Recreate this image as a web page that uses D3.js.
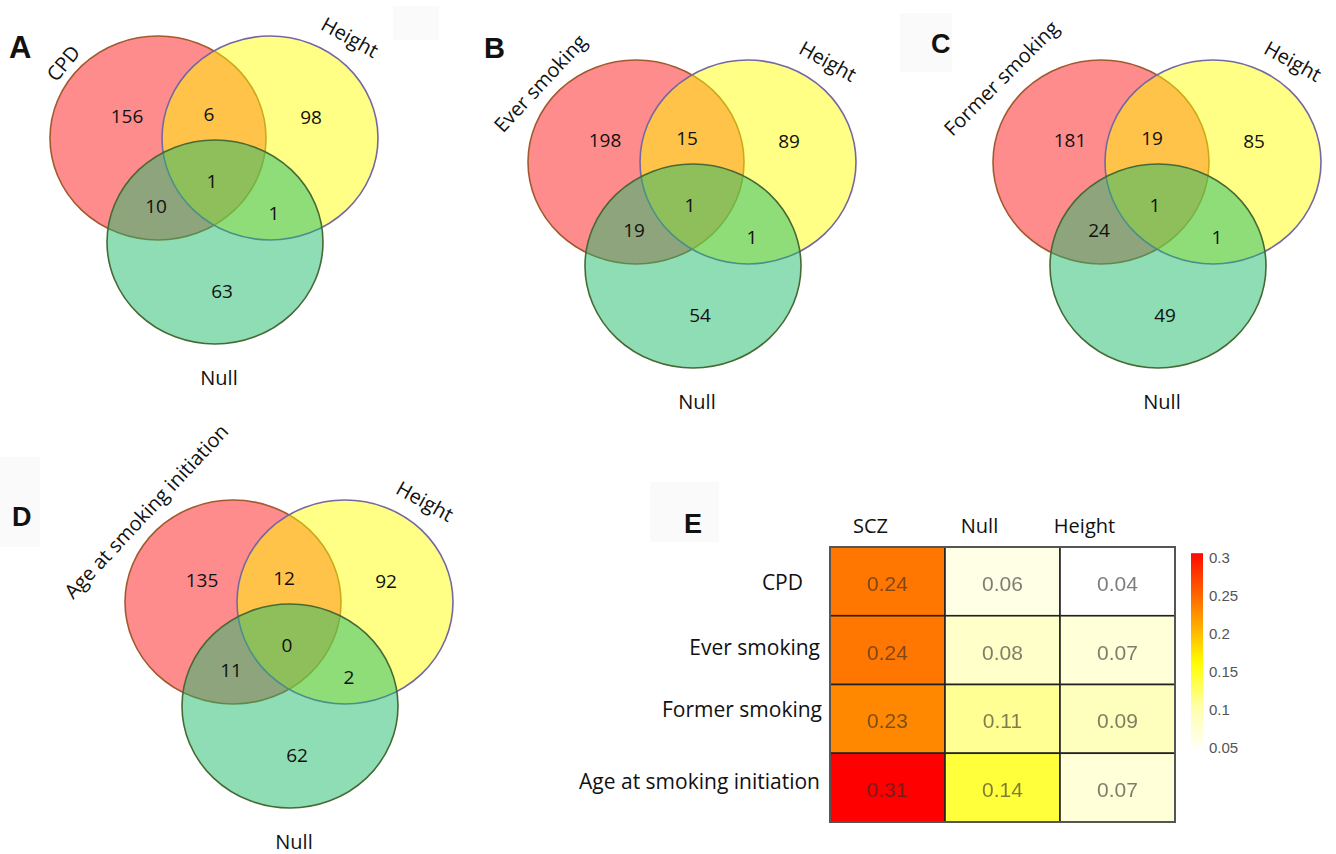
<!DOCTYPE html>
<html>
<head>
<meta charset="utf-8">
<script src="https://cdn.jsdelivr.net/npm/d3@7"></script>
<style>
  html, body { margin: 0; padding: 0; background: #ffffff; }
  svg { display: block; }
</style>
</head>
<body>
<svg id="fig" width="1336" height="854"></svg>
<script>
// ---- Data ----
const panelLetters = ["A", "B", "C", "D"];
const traitNames = ["CPD", "Ever smoking", "Former smoking", "Age at smoking initiation"];
const otherSets = ["Height", "Null"];
// region order: trait only, trait∩height, height only, all three, trait∩null, height∩null, null only
const regionKeys = ["T", "TH", "H", "THN", "TN", "HN", "N"];
const countsCPD = [156, 6, 98, 1, 10, 1, 63];
const countsEver = [198, 15, 89, 1, 19, 1, 54];
const countsFormer = [181, 19, 85, 1, 24, 1, 49];
const countsAge = [135, 12, 92, 0, 11, 2, 62];
const vennCounts = [countsCPD, countsEver, countsFormer, countsAge];

// heatmap
const heatRows = ["CPD", "Ever smoking", "Former smoking", "Age at smoking initiation"];
const heatCols = ["SCZ", "Null", "Height"];
const overlapSCZ = [0.24, 0.24, 0.23, 0.31];
const overlapNull = [0.06, 0.08, 0.11, 0.14];
const overlapHeight = [0.04, 0.07, 0.09, 0.07];
const legendTicks = [0.05, 0.1, 0.15, 0.2, 0.25, 0.3];

// ---- Layout ----
const svg = d3.select("#fig");
svg.append("rect").attr("width", 1336).attr("height", 854).attr("fill", "#ffffff");

// faint boxes behind some panel letters
const faintBoxes = [[393, 6, 46, 34], [900, 13, 52, 59], [0, 457, 40, 90], [650, 482, 69, 60]];
svg.selectAll("rect.faint").data(faintBoxes).join("rect")
  .attr("class", "faint")
  .attr("x", d => d[0]).attr("y", d => d[1]).attr("width", d => d[2]).attr("height", d => d[3])
  .attr("fill", "#fafafa");

const vennFont = "'Open Sans', 'Noto Sans', sans-serif";
const fs = 20;
const panelOffsets = [[0, 0], [478, 24], [943, 24], [75, 464]];
const traitLabelPos = [[63, 63, -50], [62, 59, -47], [58, 54, -45], [71, 47, -47]];
const letterPos = [[9, 58, 31], [484, 58, 29], [931, 53, 27], [12, 526, 27]];

const circles = [
  { cx: 158, cy: 138, fill: "rgb(255,0,0)", op: 0.45, stroke: "#a2592e" },
  { cx: 270, cy: 138, fill: "rgb(255,255,0)", op: 0.48, stroke: "#7467a3" },
  { cx: 215, cy: 242, fill: "rgb(29,187,107)", op: 0.5, stroke: "#466a34" }
];
const rx = 108, ry = 102;
const regionPos = {
  T: [127, 116], TH: [209, 114], H: [311, 117], THN: [212, 181],
  TN: [156, 206], HN: [274, 213], N: [222, 291]
};

vennCounts.forEach((counts, i) => {
  const [ox, oy] = panelOffsets[i];
  const g = svg.append("g").attr("transform", `translate(${ox},${oy})`);

  g.selectAll("ellipse.fill").data(circles).join("ellipse")
    .attr("class", "fill")
    .attr("cx", d => d.cx).attr("cy", d => d.cy)
    .attr("rx", rx).attr("ry", ry)
    .attr("fill", d => d.fill).attr("fill-opacity", d => d.op)
    .attr("stroke", d => d.stroke).attr("stroke-width", 1.6);

  g.selectAll("text.count").data(regionKeys).join("text")
    .attr("class", "count")
    .attr("x", k => regionPos[k][0]).attr("y", k => regionPos[k][1])
    .attr("text-anchor", "middle").attr("dominant-baseline", "central")
    .attr("font-family", vennFont).attr("font-size", fs - 1).attr("fill", "#111")
    .text((k, j) => counts[j]);

  const [tx, ty, ta] = traitLabelPos[i];
  g.append("text")
    .attr("transform", `translate(${tx},${ty}) rotate(${ta})`)
    .attr("text-anchor", "middle").attr("dominant-baseline", "central")
    .attr("font-family", vennFont).attr("font-size", fs).attr("fill", "#111")
    .text(traitNames[i]);

  g.append("text")
    .attr("transform", `translate(350,37) rotate(29)`)
    .attr("text-anchor", "middle").attr("dominant-baseline", "central")
    .attr("font-family", vennFont).attr("font-size", fs).attr("fill", "#111")
    .text(otherSets[0]);

  g.append("text")
    .attr("x", 219).attr("y", 377)
    .attr("text-anchor", "middle").attr("dominant-baseline", "central")
    .attr("font-family", vennFont).attr("font-size", fs).attr("fill", "#111")
    .text(otherSets[1]);
});

// panel letters
panelLetters.forEach((L, i) => {
  const [x, y, s] = letterPos[i];
  svg.append("text").attr("x", x).attr("y", y)
    .attr("font-family", "'Liberation Sans', Arial, sans-serif")
    .attr("font-weight", "bold").attr("font-size", s).attr("fill", "#111")
    .text(L);
});
svg.append("text").attr("x", 684).attr("y", 533)
  .attr("font-family", "'Liberation Sans', Arial, sans-serif")
  .attr("font-weight", "bold").attr("font-size", 27).attr("fill", "#111")
  .text("E");

// ---- Heatmap (E) ----
const color = d3.scaleLinear()
  .domain([0.04, 0.10, 0.16, 0.31])
  .range(["#ffffff", "#ffffb0", "#ffff00", "#ff0000"])
  .clamp(true);

const x = d3.scaleBand().domain(heatCols).range([830, 1175]);
const y = d3.scaleBand().domain(heatRows).range([547, 822]);
const colValues = [overlapSCZ, overlapNull, overlapHeight];
const cells = [];
heatCols.forEach((c, ci) => heatRows.forEach((r, ri) => cells.push({ c, r, v: colValues[ci][ri] })));

const defs = svg.append("defs");
defs.append("filter").attr("id", "soft")
  .append("feGaussianBlur").attr("stdDeviation", 0.45);

const hm = svg.append("g");
hm.selectAll("rect.cell").data(cells).join("rect")
  .attr("class", "cell")
  .attr("x", d => x(d.c)).attr("y", d => y(d.r))
  .attr("width", x.bandwidth()).attr("height", y.bandwidth())
  .attr("fill", d => color(d.v))
  .attr("stroke", "#222").attr("stroke-width", 1.6);

hm.selectAll("text.val").data(cells).join("text")
  .attr("class", "val")
  .attr("x", d => x(d.c) + x.bandwidth() / 2)
  .attr("y", d => y(d.r) + y.bandwidth() / 2 + 2)
  .attr("text-anchor", "middle").attr("dominant-baseline", "central")
  .attr("font-family", "'Liberation Sans', Arial, sans-serif")
  .attr("font-size", 21).attr("fill", "#2a2a2a").attr("fill-opacity", 0.6)
  .attr("filter", "url(#soft)")
  .text(d => d3.format(".2f")(d.v));

hm.append("rect")
  .attr("x", 830).attr("y", 547).attr("width", 345).attr("height", 275)
  .attr("fill", "none").attr("stroke", "#555").attr("stroke-width", 2);

const headerDx = [-17, -23, -33];
hm.selectAll("text.colhead").data(heatCols).join("text")
  .attr("class", "colhead")
  .attr("x", (c, i) => x(c) + x.bandwidth() / 2 + headerDx[i])
  .attr("y", 525)
  .attr("text-anchor", "middle").attr("dominant-baseline", "central")
  .attr("font-family", vennFont).attr("font-size", 20).attr("fill", "#111")
  .text(c => c);

const rowDx = [-17, 0, 2, 0];
const rowDy = [1, -3, -10, -7];
hm.selectAll("text.rowhead").data(heatRows).join("text")
  .attr("class", "rowhead")
  .attr("x", (r, i) => 820 + rowDx[i])
  .attr("y", (r, i) => y(r) + y.bandwidth() / 2 + rowDy[i])
  .attr("text-anchor", "end").attr("dominant-baseline", "central")
  .attr("font-family", vennFont).attr("font-size", 21).attr("fill", "#111")
  .text(r => r);

// colour legend
const ly = d3.scaleLinear().domain([0.05, 0.3]).range([747, 557]);
const grad = defs.append("linearGradient").attr("id", "legGrad")
  .attr("x1", 0).attr("y1", 1).attr("x2", 0).attr("y2", 0);
d3.range(0, 1.0001, 0.05).forEach(t => {
  const v = 0.05 + t * (0.305 - 0.05);
  grad.append("stop").attr("offset", t).attr("stop-color", color(v));
});
svg.append("rect")
  .attr("x", 1191).attr("y", ly(0.305)).attr("width", 12).attr("height", ly(0.05) - ly(0.305))
  .attr("fill", "url(#legGrad)");
svg.selectAll("text.leg").data(legendTicks).join("text")
  .attr("class", "leg")
  .attr("x", 1209).attr("y", d => ly(d))
  .attr("dominant-baseline", "central")
  .attr("font-family", "'Liberation Sans', Arial, sans-serif")
  .attr("font-size", 15).attr("fill", "#555")
  .text(d => d);
</script>
</body>
</html>
